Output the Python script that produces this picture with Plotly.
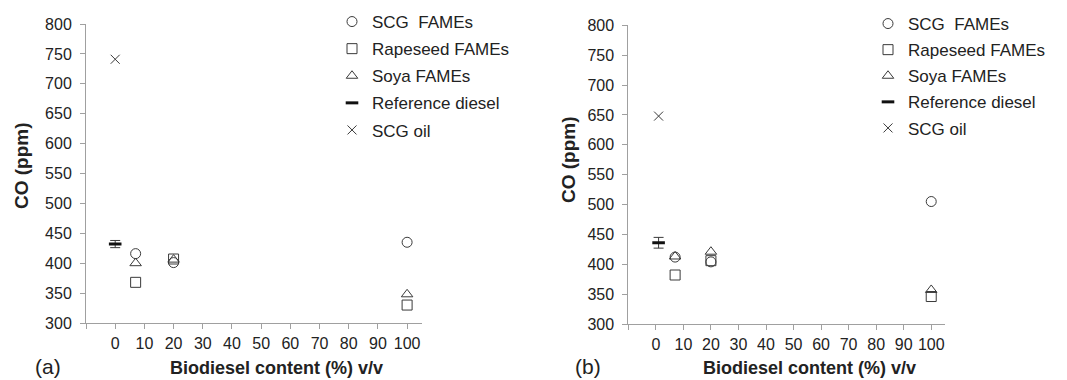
import plotly.graph_objects as go

# ---------------- data ----------------
series_names = ["SCG  FAMEs", "Rapeseed FAMEs", "Soya FAMEs", "Reference diesel", "SCG oil"]

# panel (a)
a_fame_x = [7, 20, 100]
a_scg_fames = [416, 401, 435]
a_rapeseed = [368, 407, 330]
a_soya = [400, 406, 348]
a_ref_x = [0]
a_ref_diesel = [432]
a_ref_err = [6]
a_oil_x = [0]
a_scg_oil = [741]

# panel (b)
b_fame_x = [7, 20, 100]
b_scg_fames = [412, 404, 505]
b_rapeseed = [382, 406, 346]
b_soya = [413, 421, 357]
b_ref_x = [1]
b_ref_diesel = [436]
b_ref_err = [9]
b_oil_x = [1]
b_scg_oil = [648]

x_tickvals = [-10, 0, 10, 20, 30, 40, 50, 60, 70, 80, 90, 100]
x_ticktext = ["", "0", "10", "20", "30", "40", "50", "60", "70", "80", "90", "100"]
y_tickvals = [300, 350, 400, 450, 500, 550, 600, 650, 700, 750, 800]

# ---------------- style ----------------
FONT = "Liberation Sans, Arial, sans-serif"
MK = "#3a3a3a"
AX = "#a0a0a0"
TXT = "#222222"

W, H = 1067, 380

fig = go.Figure()


def add_panel(xa, ya, leg, fx, scg, rape, soya, rx, ref, rerr, ox, oil):
    common = dict(xaxis=xa, yaxis=ya, legend=leg, mode="markers")
    fig.add_trace(go.Scatter(x=fx, y=scg, name=series_names[0], legendgroup=leg + "1",
                             marker=dict(symbol="circle-open", size=10, color=MK, line=dict(width=1, color=MK)),
                             **common))
    fig.add_trace(go.Scatter(x=fx, y=rape, name=series_names[1], legendgroup=leg + "2",
                             marker=dict(symbol="square-open", size=10, color=MK, line=dict(width=1, color=MK)),
                             **common))
    fig.add_trace(go.Scatter(x=fx, y=soya, name=series_names[2], legendgroup=leg + "3",
                             marker=dict(symbol="triangle-up-open", size=10, color=MK, line=dict(width=1, color=MK)),
                             **common))
    fig.add_trace(go.Scatter(x=rx, y=ref, name=series_names[3], legendgroup=leg + "4",
                             error_y=dict(type="data", array=rerr, visible=True, color=MK, thickness=1, width=5),
                             marker=dict(symbol="line-ew-open", size=9, color="#111", line=dict(width=3, color="#111")),
                             **common))
    fig.add_trace(go.Scatter(x=ox, y=oil, name=series_names[4], legendgroup=leg + "5",
                             marker=dict(symbol="x-thin-open", size=9, color=MK, line=dict(width=1, color=MK)),
                             **common))


add_panel("x", "y", "legend", a_fame_x, a_scg_fames, a_rapeseed, a_soya,
          a_ref_x, a_ref_diesel, a_ref_err, a_oil_x, a_scg_oil)
add_panel("x2", "y2", "legend2", b_fame_x, b_scg_fames, b_rapeseed, b_soya,
          b_ref_x, b_ref_diesel, b_ref_err, b_oil_x, b_scg_oil)

xax = dict(range=[-10, 105], tickmode="array", tickvals=x_tickvals, ticktext=x_ticktext,
           showline=True, linecolor=AX, linewidth=1, ticks="outside", ticklen=5, tickcolor=AX,
           showgrid=False, zeroline=False, ticklabelstandoff=1, automargin=False,
           tickfont=dict(family=FONT, size=16, color=TXT))
yax = dict(range=[300, 800], tickmode="array", tickvals=y_tickvals,
           showline=True, linecolor=AX, linewidth=1, ticks="outside", ticklen=5, tickcolor=AX,
           showgrid=False, zeroline=False, ticklabelstandoff=5, automargin=False,
           tickfont=dict(family=FONT, size=16, color=TXT))

leg_common = dict(font=dict(family=FONT, size=17, color=TXT), bgcolor="rgba(0,0,0,0)",
                  itemwidth=30, xanchor="left", yanchor="top",
                  xref="container", yref="container",
                  traceorder="grouped", itemclick=False, itemdoubleclick=False)

fig.update_layout(
    template="none",
    width=W, height=H,
    margin=dict(l=0, r=0, t=0, b=0, autoexpand=False),
    paper_bgcolor="white", plot_bgcolor="white",
    font=dict(family=FONT, color=TXT),
    xaxis=dict(domain=[86 / W, 421.7 / W], anchor="y", **xax),
    yaxis=dict(domain=[1 - 323 / H, 1 - 24 / H], anchor="x", **yax),
    xaxis2=dict(domain=[628.3 / W, 945 / W], anchor="y2", **xax),
    yaxis2=dict(domain=[1 - 324 / H, 1 - 25.3 / H], anchor="x2", **yax),
    legend=dict(x=(372 - 40) / W, y=1 - 4 / H, tracegroupgap=2, **leg_common),
    legend2=dict(x=(908 - 40) / W, y=1 - 6 / H, tracegroupgap=1, **leg_common),
    annotations=[
        dict(text="<b>Biodiesel content (%) v/v</b>", x=276 / W, y=0, xref="paper", yref="paper",
             xanchor="center", yanchor="bottom", showarrow=False, font=dict(family=FONT, size=18, color=TXT)),
        dict(text="<b>Biodiesel content (%) v/v</b>", x=809.5 / W, y=0, xref="paper", yref="paper",
             xanchor="center", yanchor="bottom", showarrow=False, font=dict(family=FONT, size=18, color=TXT)),
        dict(text="<b>CO (ppm)</b>", x=21 / W, y=1 - 166 / H, xref="paper", yref="paper", textangle=-90,
             xanchor="center", yanchor="middle", showarrow=False, font=dict(family=FONT, size=19, color=TXT)),
        dict(text="<b>CO (ppm)</b>", x=568 / W, y=1 - 160 / H, xref="paper", yref="paper", textangle=-90,
             xanchor="center", yanchor="middle", showarrow=False, font=dict(family=FONT, size=19, color=TXT)),
        dict(text="(a)", x=48 / W, y=1 - 366 / H, xref="paper", yref="paper",
             xanchor="center", yanchor="middle", showarrow=False, font=dict(family=FONT, size=21, color=TXT)),
        dict(text="(b)", x=588 / W, y=1 - 366 / H, xref="paper", yref="paper",
             xanchor="center", yanchor="middle", showarrow=False, font=dict(family=FONT, size=21, color=TXT)),
    ],
)

fig.write_html(
    "out.html",
    config={"displayModeBar": False, "responsive": False},
    post_script="document.body.style.margin='0';document.body.style.padding='0';"
                "document.body.style.overflow='hidden';",
)
